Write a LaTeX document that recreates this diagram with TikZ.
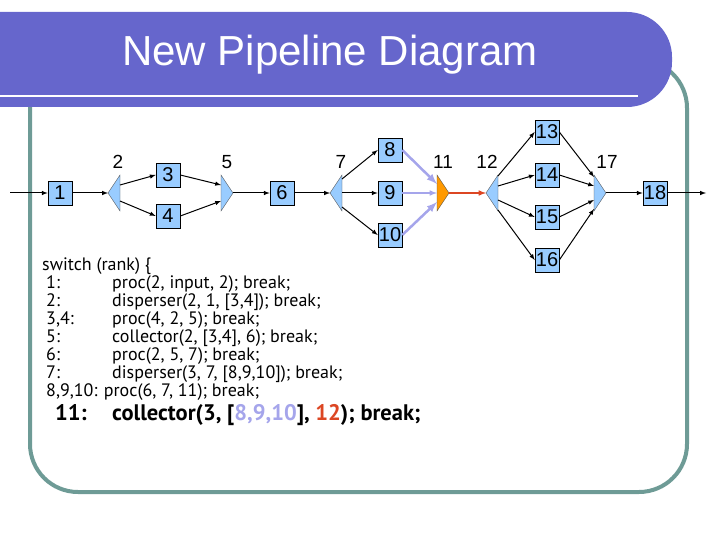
\documentclass[tikz,border=0pt]{standalone}
\usepackage{fontspec}
\setmainfont{Liberation Sans}
\newfontfamily\codefont{PT Sans}
\begin{document}
\begin{tikzpicture}[x=1pt,y=-1pt,
  box/.style={draw=black,line width=0.6pt,fill=boxblue,minimum width=24pt,minimum height=24pt,inner sep=0pt,font=\fontsize{20}{20}\selectfont},
  tri/.style={draw=black!70,line width=0.4pt,fill=boxblue},
  lbl/.style={font=\fontsize{19}{19}\selectfont,inner sep=0pt},
  arr/.style={-latex,line width=1pt,black},
  lav/.style={-latex,line width=2.5pt,lavc},
  code/.style={anchor=base west,inner sep=0pt,font=\codefont\fontsize{18}{18}\selectfont},
  bcode/.style={anchor=base west,inner sep=0pt,font=\codefont\bfseries\fontsize{22.5}{22.5}\selectfont}]
\definecolor{boxblue}{RGB}{153,204,255}
\definecolor{banner}{RGB}{102,102,204}
\definecolor{framec}{RGB}{110,155,150}
\definecolor{lavc}{RGB}{165,165,235}
\definecolor{redc}{RGB}{220,70,35}
\definecolor{orangec}{RGB}{255,153,0}
\useasboundingbox (0,0) rectangle (720,540);
% frame
\draw[framec,line width=4pt,rounded corners=48pt] (30,60) rectangle (687,492);
% banner
\fill[banner,rounded corners=45pt] (-60,12) rectangle (672,107);
\fill[banner] (0,12) rectangle (100,107);
\draw[white,line width=2.5pt] (0,96) -- (638,96);
\node[white,font=\fontsize{42}{42}\selectfont] (title) at (330,55) {New Pipeline Diagram};
% boxes
\node[box] (b1) at (60,193) {1};
\node[box] (b3) at (168,175) {3};
\node[box] (b4) at (168,216) {4};
\node[box] (b6) at (282,193) {6};
\node[box] (b8) at (390,150) {8};
\node[box] (b9) at (390,193) {9};
\node[box] (b10) at (390,235) {10};
\node[box] (b13) at (547,132) {13};
\node[box] (b14) at (547,175) {14};
\node[box] (b15) at (547,217) {15};
\node[box] (b16) at (547,260) {16};
\node[box] (b18) at (655,193) {18};
% triangles
\draw[tri] (108,193) -- (120,175) -- (120,211) -- cycle;
\draw[tri] (233,193) -- (221,175) -- (221,211) -- cycle;
\draw[tri] (330,193) -- (342,175) -- (342,211) -- cycle;
\draw[draw=black!70,line width=0.4pt,fill=orangec] (449,193) -- (437,175) -- (437,211) -- cycle;
\draw[tri] (486,193) -- (498,175) -- (498,211) -- cycle;
\draw[tri] (606,193) -- (594,175) -- (594,211) -- cycle;
% labels
\node[lbl] (l2) at (118,162) {2};
\node[lbl] (l5) at (227,162) {5};
\node[lbl] (l7) at (341,162) {7};
\node[lbl] (l11) at (443,162) {11};
\node[lbl] (l12) at (487,162) {12};
\node[lbl] (l17) at (607,162) {17};
% connection points
\coordinate (in) at (10,193);
\coordinate (t2) at (108,193);
\coordinate (d2a) at (120,185); \coordinate (d2b) at (120,201);
\coordinate (c5a) at (221,185); \coordinate (c5b) at (221,201); \coordinate (t5) at (233,193);
\coordinate (t7) at (330,193);
\coordinate (d7a) at (342,179); \coordinate (d7b) at (342,193); \coordinate (d7c) at (342,207);
\coordinate (c11a) at (437,184); \coordinate (c11b) at (437,193); \coordinate (c11c) at (437,202); \coordinate (t11) at (449,193);
\coordinate (t12) at (486,193);
\coordinate (d12a) at (498,176); \coordinate (d12b) at (498,186); \coordinate (d12c) at (498,200); \coordinate (d12d) at (498,210);
\coordinate (c17a) at (594,177); \coordinate (c17b) at (594,186); \coordinate (c17c) at (594,200); \coordinate (c17d) at (594,209);
\coordinate (t17) at (606,193);
\coordinate (out) at (706,193);
% arrows
\draw[arr] (in) -- (b1);
\draw[arr] (b1) -- (t2);
\draw[arr] (d2a) -- (b3.west);
\draw[arr] (d2b) -- (b4.west);
\draw[arr] (b3.east) -- (c5a);
\draw[arr] (b4.east) -- (c5b);
\draw[arr] (t5) -- (b6);
\draw[arr] (b6) -- (t7);
\draw[arr] (d7a) -- (b8.west);
\draw[arr] (d7b) -- (b9.west);
\draw[arr] (d7c) -- (b10.west);
\draw[lav] (b8.east) -- (c11a);
\draw[lav,line width=1.5pt] (b9.east) -- (c11b);
\draw[lav] (b10.east) -- (c11c);
\draw[-latex,line width=1.5pt,redc] (t11) -- (t12);
\draw[arr] (d12a) -- (b13.west);
\draw[arr] (d12b) -- (b14.west);
\draw[arr] (d12c) -- (b15.west);
\draw[arr] (d12d) -- (b16.west);
\draw[arr] (b13.east) -- (c17a);
\draw[arr] (b14.east) -- (c17b);
\draw[arr] (b15.east) -- (c17c);
\draw[arr] (b16.east) -- (c17d);
\draw[arr] (t17) -- (b18);
\draw[arr] (b18) -- (out);
% code
\node[code] (s0) at (42,270) {switch (rank) \{};
\node[code] (k1) at (46,288) {1:};  \node[code] (v1) at (112,288) {proc(2, input, 2); break;};
\node[code] (k2) at (46,306) {2:};  \node[code] (v2) at (112,306) {disperser(2, 1, [3,4]); break;};
\node[code] (k3) at (46,324) {3,4:};  \node[code] (v3) at (112,324) {proc(4, 2, 5); break;};
\node[code] (k4) at (46,342) {5:};  \node[code] (v4) at (112,342) {collector(2, [3,4], 6); break;};
\node[code] (k5) at (46,360) {6:};  \node[code] (v5) at (112,360) {proc(2, 5, 7); break;};
\node[code] (k6) at (46,378) {7:};  \node[code] (v6) at (112,378) {disperser(3, 7, [8,9,10]); break;};
\node[code] (k7) at (46,396) {8,9,10: proc(6, 7, 11); break;};
\node[bcode] (k8) at (55,420) {11:};
\node[bcode] (v8) at (112,420) {collector(3, [\textcolor{lavc}{8,9,10}], \textcolor{redc}{12}); break;};
\end{tikzpicture}
\end{document}
